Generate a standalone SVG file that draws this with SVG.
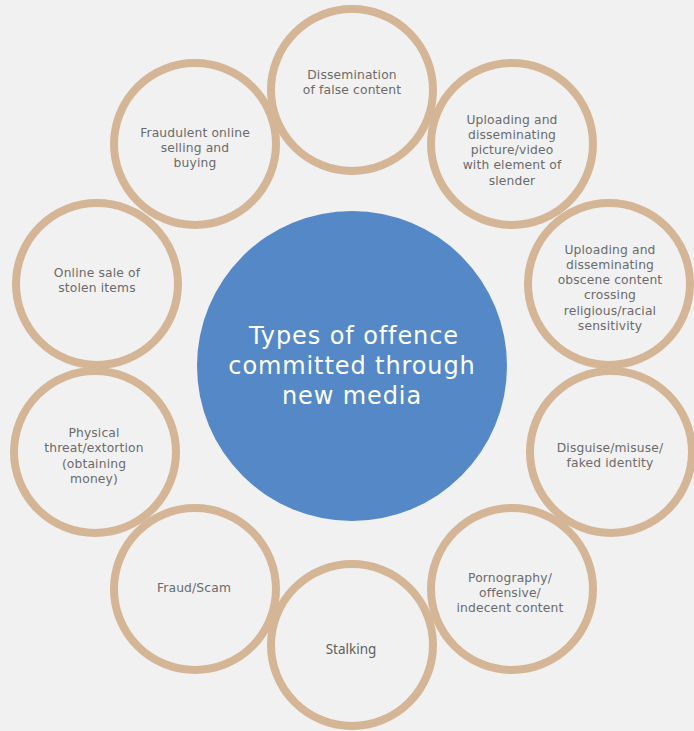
<svg xmlns="http://www.w3.org/2000/svg" width="694" height="731" viewBox="0 0 694 731">
<style>
.ring{fill:none;stroke:#D4B595;stroke-width:8}
.lbl{font-family:"DejaVu Sans","Liberation Sans",sans-serif;font-size:12.3px;fill:#6b6b6b;text-anchor:middle;letter-spacing:0.15px}
.hub{fill:#5588C7}
.hubt{font-family:"DejaVu Sans","Liberation Sans",sans-serif;font-size:24px;fill:#ffffff;text-anchor:middle;letter-spacing:0.9px}
</style>
<rect width="694" height="731" fill="#F1F1F1"/>
<g id="connectors"></g>
<g id="n1"><circle class="ring" cx="352" cy="90" r="81"/>
<text class="lbl" x="352" y="79">Dissemination</text><text class="lbl" x="352" y="94">of false content</text></g>
<g id="n2"><circle class="ring" cx="512" cy="144" r="81"/>
<text class="lbl" x="512" y="124">Uploading and</text><text class="lbl" x="512" y="139">disseminating</text><text class="lbl" x="512" y="154">picture/video</text><text class="lbl" x="512" y="169">with element of</text><text class="lbl" x="512" y="185">slender</text></g>
<g id="n3"><circle class="ring" cx="609" cy="284" r="81"/>
<text class="lbl" x="610" y="254">Uploading and</text><text class="lbl" x="610" y="269">disseminating</text><text class="lbl" x="610" y="284">obscene content</text><text class="lbl" x="610" y="299">crossing</text><text class="lbl" x="610" y="315">religious/racial</text><text class="lbl" x="610" y="330">sensitivity</text></g>
<g id="n4"><circle class="ring" cx="611" cy="452" r="81"/>
<text class="lbl" x="610" y="452">Disguise/misuse/</text><text class="lbl" x="610" y="467">faked identity</text></g>
<g id="n5"><circle class="ring" cx="512" cy="589" r="81"/>
<text class="lbl" x="510" y="582">Pornography/</text><text class="lbl" x="510" y="597">offensive/</text><text class="lbl" x="510" y="612">indecent content</text></g>
<g id="n6"><circle class="ring" cx="352" cy="645" r="81"/>
<text x="351" y="654" style="font-family:'Noto Sans',sans-serif;font-size:13.5px;fill:#5f5f5f;text-anchor:middle">Stalking</text></g>
<g id="n7"><circle class="ring" cx="195" cy="589" r="81"/>
<text class="lbl" x="194" y="592">Fraud/Scam</text></g>
<g id="n8"><circle class="ring" cx="95" cy="452" r="81"/>
<text class="lbl" x="94" y="437">Physical</text><text class="lbl" x="94" y="452">threat/extortion</text><text class="lbl" x="94" y="468">(obtaining</text><text class="lbl" x="94" y="483">money)</text></g>
<g id="n9"><circle class="ring" cx="97" cy="284" r="81"/>
<text class="lbl" x="97" y="277">Online sale of</text><text class="lbl" x="97" y="292">stolen items</text></g>
<g id="n10"><circle class="ring" cx="195" cy="144" r="81"/>
<text class="lbl" x="195" y="137">Fraudulent online</text><text class="lbl" x="195" y="152">selling and</text><text class="lbl" x="195" y="167">buying</text></g>
<g id="hub"><circle class="hub" cx="352" cy="366" r="155"/>
<text class="hubt" x="354" y="344">Types of offence</text><text class="hubt" x="352" y="374">committed through</text><text class="hubt" x="352" y="404">new media</text></g>
</svg>
